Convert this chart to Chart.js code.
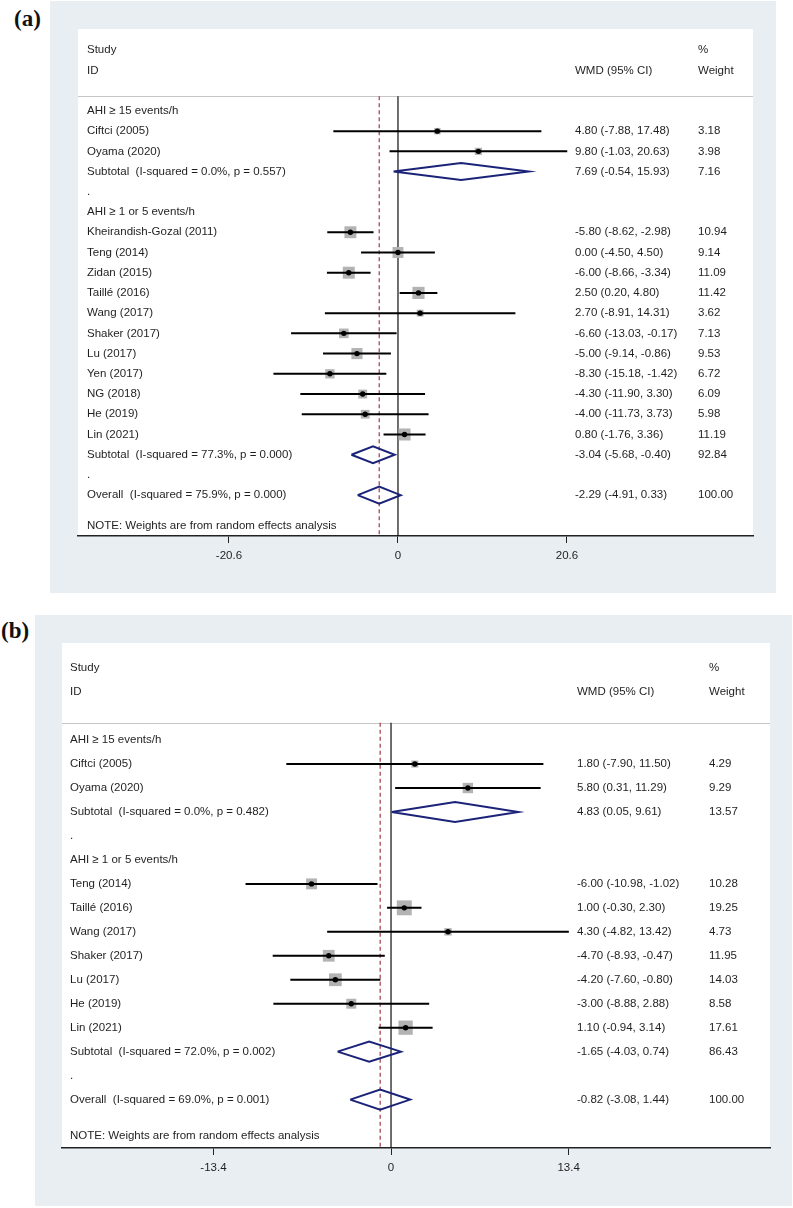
<!DOCTYPE html>
<html>
<head>
<meta charset="utf-8">
<script src="https://cdn.jsdelivr.net/npm/chart.js@4.4.1/dist/chart.umd.min.js"></script>
<style>
  body { margin: 0; background: #fff; width: 793px; height: 1208px; position: relative; overflow: hidden; }
  .panel-label { position: absolute; font-family: "Liberation Serif", "Times New Roman", serif; font-weight: bold; font-size: 23px; line-height: 23px; color: #111; }
  canvas { position: absolute; background: #e9eef2; }
</style>
</head>
<body>
<div class="panel-label" style="left:14px;top:7px">(a)</div>
<canvas id="chartA" width="726" height="592" style="left:50px;top:1px"></canvas>
<div class="panel-label" style="left:1px;top:619px">(b)</div>
<canvas id="chartB" width="757" height="591" style="left:35px;top:615px"></canvas>

<script>
// ---------- panel (a) ----------
const aGroups = ['AHI ≥ 15 events/h', 'AHI ≥ 1 or 5 events/h'];
const aStudies = ['Ciftci (2005)', 'Oyama (2020)', 'Kheirandish-Gozal (2011)', 'Teng (2014)', 'Zidan (2015)',
  'Taillé (2016)', 'Wang (2017)', 'Shaker (2017)', 'Lu (2017)', 'Yen (2017)', 'NG (2018)', 'He (2019)', 'Lin (2021)'];
const aStudyGroup = [0, 0, 1, 1, 1, 1, 1, 1, 1, 1, 1, 1, 1];
const aEst = [4.80, 9.80, -5.80, 0.00, -6.00, 2.50, 2.70, -6.60, -5.00, -8.30, -4.30, -4.00, 0.80];
const aLow = [-7.88, -1.03, -8.62, -4.50, -8.66, 0.20, -8.91, -13.03, -9.14, -15.18, -11.90, -11.73, -1.76];
const aHigh = [17.48, 20.63, -2.98, 4.50, -3.34, 4.80, 14.31, -0.17, -0.86, -1.42, 3.30, 3.73, 3.36];
const aWeight = [3.18, 3.98, 10.94, 9.14, 11.09, 11.42, 3.62, 7.13, 9.53, 6.72, 6.09, 5.98, 11.19];
const aSubLabels = ['Subtotal  (I-squared = 0.0%, p = 0.557)', 'Subtotal  (I-squared = 77.3%, p = 0.000)'];
const aSubEst = [7.69, -3.04];
const aSubLow = [-0.54, -5.68];
const aSubHigh = [15.93, -0.40];
const aSubWeight = [7.16, 92.84];
const aOverallLabel = 'Overall  (I-squared = 75.9%, p = 0.000)';
const aOverallEst = -2.29, aOverallLow = -4.91, aOverallHigh = 0.33;
const aTicks = [-20.6, 0, 20.6];

// ---------- panel (b) ----------
const bGroups = ['AHI ≥ 15 events/h', 'AHI ≥ 1 or 5 events/h'];
const bStudies = ['Ciftci (2005)', 'Oyama (2020)', 'Teng (2014)', 'Taillé (2016)', 'Wang (2017)',
  'Shaker (2017)', 'Lu (2017)', 'He (2019)', 'Lin (2021)'];
const bStudyGroup = [0, 0, 1, 1, 1, 1, 1, 1, 1];
const bEst = [1.80, 5.80, -6.00, 1.00, 4.30, -4.70, -4.20, -3.00, 1.10];
const bLow = [-7.90, 0.31, -10.98, -0.30, -4.82, -8.93, -7.60, -8.88, -0.94];
const bHigh = [11.50, 11.29, -1.02, 2.30, 13.42, -0.47, -0.80, 2.88, 3.14];
const bWeight = [4.29, 9.29, 10.28, 19.25, 4.73, 11.95, 14.03, 8.58, 17.61];
const bSubLabels = ['Subtotal  (I-squared = 0.0%, p = 0.482)', 'Subtotal  (I-squared = 72.0%, p = 0.002)'];
const bSubEst = [4.83, -1.65];
const bSubLow = [0.05, -4.03];
const bSubHigh = [9.61, 0.74];
const bSubWeight = [13.57, 86.43];
const bOverallLabel = 'Overall  (I-squared = 69.0%, p = 0.001)';
const bOverallEst = -0.82, bOverallLow = -3.08, bOverallHigh = 1.44;
const bTicks = [-13.4, 0, 13.4];

const FONT = '"Liberation Sans", Arial, sans-serif';
const TEXT = '#1f1f1f';
const NAVY = 'rgb(26,35,120)';

function fmt(v) { return v.toFixed(2); }

// rows in stata order: heading, studies, subtotal, "." per group, then overall
function buildRows(d) {
  const rows = [];
  d.groups.forEach((g, gi) => {
    rows.push({ kind: 'head', text: g });
    d.studies.forEach((s, i) => {
      if (d.studyGroup[i] !== gi) return;
      rows.push({ kind: 'study', text: s, est: d.est[i], lo: d.low[i], hi: d.high[i], w: d.weight[i] });
    });
    rows.push({ kind: 'pool', text: d.subLabels[gi], est: d.subEst[gi], lo: d.subLow[gi], hi: d.subHigh[gi], w: d.subWeight[gi] });
    rows.push({ kind: 'gap', text: '.' });
  });
  rows.push({ kind: 'pool', text: d.overallLabel, est: d.overallEst, lo: d.overallLow, hi: d.overallHigh, w: 100 });
  return rows;
}

const forestText = {
  id: 'forestText',
  beforeDraw(chart, args, o) {
    const { ctx, chartArea: ca, scales } = chart;
    ctx.save();
    ctx.fillStyle = '#fff';
    ctx.fillRect(ca.left, ca.top, ca.right - ca.left, ca.bottom - ca.top);
    const ySep = Math.round(scales.y.getPixelForValue(o.sepRow)) + 0.5;
    ctx.strokeStyle = '#c6c6c6';
    ctx.lineWidth = 1.2;
    ctx.beginPath();
    ctx.moveTo(ca.left, ySep);
    ctx.lineTo(ca.right, ySep);
    ctx.stroke();
    ctx.restore();
  },
  afterDatasetsDraw(chart, args, o) {
    const { ctx, scales } = chart;
    const y = v => scales.y.getPixelForValue(v);
    ctx.save();
    ctx.font = '11.5px ' + FONT;
    ctx.fillStyle = TEXT;
    ctx.textBaseline = 'middle';
    ctx.textAlign = 'left';
    ctx.fillText('Study', o.colText, y(-3));
    ctx.fillText('ID', o.colText, y(-2));
    ctx.fillText('WMD (95% CI)', o.colCI, y(-2));
    ctx.fillText('%', o.colW, y(-3));
    ctx.fillText('Weight', o.colW, y(-2));
    o.rows.forEach((row, r) => {
      ctx.fillText(row.text, o.colText, y(r));
      if (row.kind === 'study' || row.kind === 'pool') {
        ctx.fillText(fmt(row.est) + ' (' + fmt(row.lo) + ', ' + fmt(row.hi) + ')', o.colCI, y(r));
        ctx.fillText(fmt(row.w), o.colW, y(r));
      }
    });
    ctx.fillText('NOTE: Weights are from random effects analysis', o.colText, y(o.rows.length + 0.5));
    ctx.restore();
  }
};

function drawForest(canvasId, d, lay) {
  const rows = buildRows(d);
  const sepRow = -0.72;
  const yMin = -4.05;
  const yMax = rows.length + 1.02;
  const half = 0.42;

  const ci = [], boxes = [], boxSize = [], dots = [], diamonds = [];
  rows.forEach((row, r) => {
    if (row.kind === 'study') {
      ci.push({ x: row.lo, y: r }, { x: row.hi, y: r }, { x: row.hi, y: null });
      boxes.push({ x: row.est, y: r });
      boxSize.push(lay.boxScale * Math.sqrt(row.w) / Math.SQRT2);
      dots.push({ x: row.est, y: r });
    } else if (row.kind === 'pool') {
      diamonds.push({ x: row.lo, y: r }, { x: row.est, y: r - half }, { x: row.hi, y: r },
        { x: row.est, y: r + half }, { x: row.lo, y: r }, { x: row.lo, y: null });
    }
  });

  new Chart(document.getElementById(canvasId), {
    type: 'scatter',
    data: {
      datasets: [
        { data: [{ x: 0, y: sepRow }, { x: 0, y: yMax }], showLine: true, borderColor: '#111',
          borderWidth: 1.2, pointRadius: 0, order: 6 },
        { data: [{ x: d.overallEst, y: sepRow }, { x: d.overallEst, y: yMax }], showLine: true,
          borderColor: 'rgb(150,40,60)', borderWidth: 1.1, borderDash: [4, 3], pointRadius: 0, order: 5 },
        { data: boxes, pointStyle: 'rect', pointRadius: boxSize, backgroundColor: '#b3b3b3',
          borderWidth: 0, order: 4 },
        { data: ci, showLine: true, borderColor: '#000', borderWidth: 2, pointRadius: 0, order: 3 },
        { data: diamonds, showLine: true, borderColor: NAVY, borderWidth: 2, pointRadius: 0,
          borderJoinStyle: 'miter', order: 2 },
        { data: dots, pointStyle: 'circle', pointRadius: 2.7, backgroundColor: '#000', borderWidth: 0, order: 1 }
      ]
    },
    options: {
      responsive: false,
      animation: false,
      devicePixelRatio: 1,
      layout: { padding: { left: lay.padLeft, top: lay.padTop, right: lay.padRight, bottom: 0 } },
      plugins: {
        legend: { display: false },
        tooltip: { enabled: false },
        forestText: { rows, sepRow, colText: lay.colText, colCI: lay.colCI, colW: lay.colW }
      },
      scales: {
        x: {
          type: 'linear',
          position: 'bottom',
          min: lay.xMin,
          max: lay.xMax,
          afterBuildTicks: s => { s.ticks = d.ticks.map(v => ({ value: v })); },
          afterFit: s => { s.height = lay.axisHeight; },
          grid: { drawOnChartArea: false, drawTicks: true, tickLength: 7, color: '#222', lineWidth: 1 },
          border: { display: true, color: '#222', width: 1.5 },
          ticks: { color: TEXT, padding: 6, font: { family: FONT, size: 11.5 }, callback: v => String(v) }
        },
        y: { type: 'linear', display: false, reverse: true, min: yMin, max: yMax }
      }
    },
    plugins: [forestText]
  });
}

drawForest('chartA', {
  groups: aGroups, studies: aStudies, studyGroup: aStudyGroup, est: aEst, low: aLow, high: aHigh, weight: aWeight,
  subLabels: aSubLabels, subEst: aSubEst, subLow: aSubLow, subHigh: aSubHigh, subWeight: aSubWeight,
  overallLabel: aOverallLabel, overallEst: aOverallEst, overallLow: aOverallLow, overallHigh: aOverallHigh,
  ticks: aTicks
}, { xMin: -39.0, xMax: 43.27, padLeft: 28, padTop: 28, padRight: 23, axisHeight: 57,
     colText: 37, colCI: 525, colW: 648, boxScale: 3.6 });

drawForest('chartB', {
  groups: bGroups, studies: bStudies, studyGroup: bStudyGroup, est: bEst, low: bLow, high: bHigh, weight: bWeight,
  subLabels: bSubLabels, subEst: bSubEst, subLow: bSubLow, subHigh: bSubHigh, subWeight: bSubWeight,
  overallLabel: bOverallLabel, overallEst: bOverallEst, overallLow: bOverallLow, overallHigh: bOverallHigh,
  ticks: bTicks
}, { xMin: -24.83, xMax: 28.6, padLeft: 27, padTop: 28, padRight: 22, axisHeight: 58,
     colText: 35, colCI: 542, colW: 674, boxScale: 3.4 });
</script>
</body>
</html>
